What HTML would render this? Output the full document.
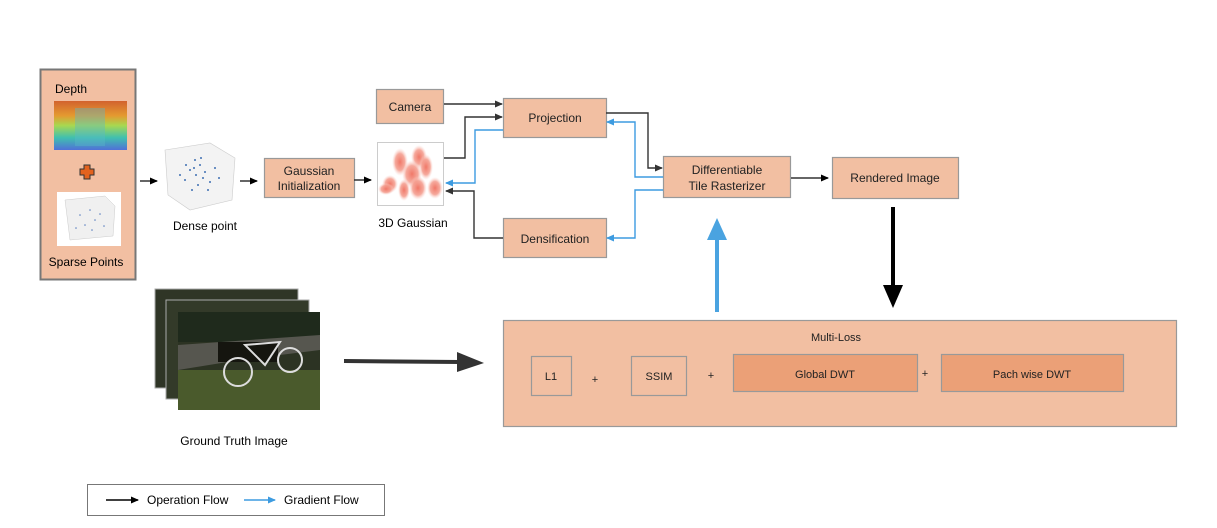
<!DOCTYPE html>
<html><head><meta charset="utf-8"><style>
html,body{margin:0;padding:0;background:#fff;}
svg{display:block;font-family:"Liberation Sans",Arial,sans-serif;}
</style></head><body>
<svg width="1217" height="528" viewBox="0 0 1217 528" xmlns="http://www.w3.org/2000/svg">
<defs>
<marker id="ab" markerWidth="8" markerHeight="8" refX="7" refY="4" orient="auto" markerUnits="userSpaceOnUse"><path d="M0,0.5 L8,4 L0,7.5 Z" fill="#333"/></marker>
<marker id="ak" markerWidth="8" markerHeight="8" refX="7" refY="4" orient="auto" markerUnits="userSpaceOnUse"><path d="M0,0.5 L8,4 L0,7.5 Z" fill="#000"/></marker>
<marker id="au" markerWidth="8" markerHeight="8" refX="7" refY="4" orient="auto" markerUnits="userSpaceOnUse"><path d="M0,0.5 L8,4 L0,7.5 Z" fill="#3d9be0"/></marker>
<radialGradient id="g" cx="50%" cy="50%" r="50%"><stop offset="0" stop-color="#f07868"/><stop offset="0.6" stop-color="#f49a8b" stop-opacity="0.85"/><stop offset="1" stop-color="#fbd6cf" stop-opacity="0"/></radialGradient>
<linearGradient id="dm" x1="0" y1="0" x2="0" y2="1"><stop offset="0" stop-color="#d2622e"/><stop offset="0.3" stop-color="#e49a30"/><stop offset="0.5" stop-color="#a8d850"/><stop offset="0.75" stop-color="#40c0b0"/><stop offset="1" stop-color="#5070d8"/></linearGradient>
</defs>
<rect x="40.5" y="69.5" width="95" height="210" fill="#f2bfa2" stroke="#777" stroke-width="2"/>
<text x="55" y="93" font-size="12" fill="#000">Depth</text>
<rect x="54" y="101" width="73" height="49" fill="url(#dm)"/>
<rect x="75" y="108" width="30" height="38" fill="#5ab8c8" opacity="0.4"/>
<path d="M84,165 h6 v4 h4 v6 h-4 v4 h-6 v-4 h-4 v-6 h4 Z" fill="#e2621e" stroke="#333" stroke-width="1"/>
<rect x="57" y="192" width="64" height="54" fill="#fff"/>
<path d="M65,200 L105,196 L115,206 L113,236 L70,240 Z" fill="#f0f0f0" stroke="#ccc" stroke-width="0.5"/>
<g fill="#5a7fc0"><circle cx="80" cy="215" r="0.8"/><circle cx="90" cy="210" r="0.8"/><circle cx="95" cy="220" r="0.8"/><circle cx="85" cy="225" r="0.8"/><circle cx="100" cy="214" r="0.8"/><circle cx="76" cy="228" r="0.8"/><circle cx="104" cy="226" r="0.8"/><circle cx="92" cy="230" r="0.8"/></g>
<text x="86" y="266" font-size="12" text-anchor="middle" fill="#000">Sparse Points</text>
<path d="M165,150 L210,143 L235,158 L232,200 L190,210 L168,195 Z" fill="#f3f3f3" stroke="#ccc" stroke-width="0.6"/>
<g fill="#3f6fb3">
<circle cx="195" cy="160" r="1"/><circle cx="200" cy="165" r="1"/><circle cx="190" cy="170" r="1"/><circle cx="205" cy="172" r="1"/><circle cx="185" cy="180" r="1"/><circle cx="210" cy="182" r="1"/><circle cx="198" cy="185" r="1"/><circle cx="192" cy="190" r="1"/><circle cx="215" cy="168" r="1"/><circle cx="180" cy="175" r="1"/><circle cx="203" cy="178" r="1"/><circle cx="196" cy="175" r="1"/><circle cx="208" cy="190" r="1"/><circle cx="186" cy="165" r="1"/><circle cx="219" cy="178" r="1"/><circle cx="201" cy="158" r="1"/><circle cx="194" cy="168" r="1"/></g>
<text x="205" y="230" font-size="12" text-anchor="middle" fill="#000">Dense point</text>
<rect x="264.5" y="158.5" width="90" height="39" fill="#f2bfa2" stroke="#999" stroke-width="1.2"/>
<text x="309" y="175" font-size="12" text-anchor="middle" fill="#222">Gaussian</text>
<text x="309" y="190" font-size="12" text-anchor="middle" fill="#222">Initialization</text>
<rect x="377.5" y="142.5" width="66" height="63" fill="#fff" stroke="#ccc"/>
<g fill="url(#g)">
<ellipse cx="400" cy="162" rx="8" ry="14"/><ellipse cx="419" cy="157" rx="8" ry="12"/><ellipse cx="426" cy="167" rx="7" ry="13"/><ellipse cx="412" cy="174" rx="10" ry="14"/><ellipse cx="390" cy="184" rx="8" ry="9"/><ellipse cx="386" cy="189" rx="8" ry="6"/><ellipse cx="404" cy="190" rx="6" ry="11"/><ellipse cx="418" cy="188" rx="9" ry="12"/><ellipse cx="435" cy="188" rx="8" ry="11"/></g>
<text x="413" y="227" font-size="12" text-anchor="middle" fill="#000">3D Gaussian</text>
<g fill="#f2bfa2" stroke="#999" stroke-width="1.2">
<rect x="376.5" y="89.5" width="67" height="34"/>
<rect x="503.5" y="98.5" width="103" height="39"/>
<rect x="503.5" y="218.5" width="103" height="39"/>
<rect x="663.5" y="156.5" width="127" height="41"/>
<rect x="832.5" y="157.5" width="126" height="41"/>
<rect x="503.5" y="320.5" width="673" height="106"/>
</g>
<g font-size="12" text-anchor="middle" fill="#222">
<text x="410" y="111">Camera</text>
<text x="555" y="122">Projection</text>
<text x="555" y="243">Densification</text>
<text x="727" y="174">Differentiable</text>
<text x="727" y="190">Tile Rasterizer</text>
<text x="895" y="182">Rendered Image</text>
<text x="836" y="341" font-size="11">Multi-Loss</text>
</g>
<g fill="none" stroke="#999" stroke-width="1.2"><rect x="531.5" y="356.5" width="40" height="39"/><rect x="631.5" y="356.5" width="55" height="39"/></g>
<g fill="#eba077" stroke="#999" stroke-width="1.2"><rect x="733.5" y="354.5" width="184" height="37"/><rect x="941.5" y="354.5" width="182" height="37"/></g>
<g font-size="11" text-anchor="middle" fill="#222">
<text x="551" y="380">L1</text><text x="595" y="383">+</text>
<text x="659" y="380">SSIM</text><text x="711" y="379">+</text>
<text x="825" y="378">Global DWT</text><text x="925" y="377">+</text>
<text x="1032" y="378">Pach wise DWT</text>
</g>
<g fill="none" stroke="#333" stroke-width="1.4">
<line x1="140" y1="181" x2="157" y2="181" marker-end="url(#ak)"/>
<line x1="240" y1="181" x2="257" y2="181" marker-end="url(#ak)"/>
<line x1="354" y1="180" x2="371" y2="180" marker-end="url(#ak)"/>
<polyline points="444,104 502,104" marker-end="url(#ab)"/>
<polyline points="444,158 465,158 465,117 502,117" marker-end="url(#ab)"/>
<polyline points="503,238 474,238 474,191 446,191" marker-end="url(#ab)"/>
<polyline points="606,113 648,113 648,168 662,168" marker-end="url(#ab)"/>
<line x1="791" y1="178" x2="828" y2="178" marker-end="url(#ak)"/>
</g>
<g fill="none" stroke="#3d9be0" stroke-width="1.4">
<polyline points="503,130 475,130 475,183 446,183" marker-end="url(#au)"/>
<polyline points="663,177 635,177 635,122 607,122" marker-end="url(#au)"/>
<polyline points="663,190 635,190 635,238 607,238" marker-end="url(#au)"/>
</g>
<line x1="893" y1="207" x2="893" y2="287" stroke="#000" stroke-width="4"/>
<path d="M883,285 L903,285 L893,308 Z" fill="#000"/>
<line x1="717" y1="312" x2="717" y2="238" stroke="#4aa3e0" stroke-width="4"/>
<path d="M707,240 L727,240 L717,218 Z" fill="#4aa3e0"/>
<line x1="344" y1="361" x2="460" y2="362" stroke="#333" stroke-width="4"/>
<path d="M457,352 L484,363 L457,372 Z" fill="#333"/>
<rect x="155" y="289" width="143" height="99" fill="#2f3526" stroke="#aaa"/>
<rect x="166" y="300" width="143" height="99" fill="#333a29" stroke="#aaa"/>
<rect x="178" y="312" width="142" height="98" fill="#2c3323"/>
<rect x="178" y="312" width="142" height="30" fill="#1f2a1c"/>
<path d="M178,345 L320,335 L320,350 L240,360 L178,370 Z" fill="#56564f"/>
<rect x="178" y="370" width="142" height="40" fill="#4a5a2c"/>
<rect x="218" y="342" width="60" height="20" fill="#15150f"/>
<g fill="none" stroke="#ddd" stroke-width="2"><circle cx="238" cy="372" r="14"/><circle cx="290" cy="360" r="12"/><path d="M245,345 L280,342 L265,365 Z"/></g>
<text x="234" y="445" font-size="12" text-anchor="middle" fill="#000">Ground Truth Image</text>
<rect x="87.5" y="484.5" width="297" height="31" fill="#fff" stroke="#777"/>
<line x1="106" y1="500" x2="138" y2="500" stroke="#000" stroke-width="1.4" marker-end="url(#ak)"/>
<text x="147" y="504" font-size="12" fill="#000">Operation Flow</text>
<line x1="244" y1="500" x2="275" y2="500" stroke="#3d9be0" stroke-width="1.4" marker-end="url(#au)"/>
<text x="284" y="504" font-size="12" fill="#000">Gradient Flow</text>
</svg>
</body></html>
